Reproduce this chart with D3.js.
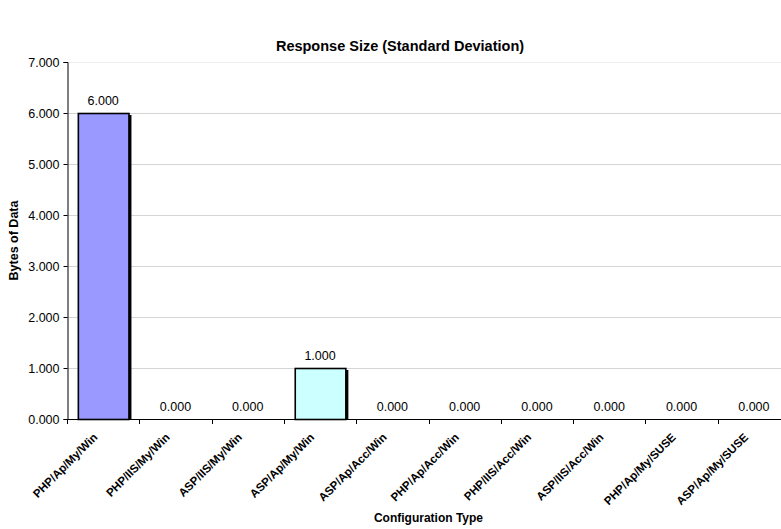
<!DOCTYPE html>
<html>
<head>
<meta charset="utf-8">
<script src="https://cdn.jsdelivr.net/npm/d3@7"></script>
<style>
  html, body { margin: 0; padding: 0; background: #fff; }
  svg { display: block; font-family: "Liberation Sans", Arial, sans-serif; }
</style>
</head>
<body>
<svg id="chart" width="781" height="529"></svg>
<script>
// Configuration labels along the x axis
const categories = [
  "PHP/Ap/My/Win", "PHP/IIS/My/Win", "ASP/IIS/My/Win", "ASP/Ap/My/Win",
  "ASP/Ap/Acc/Win", "PHP/Ap/Acc/Win", "PHP/IIS/Acc/Win", "ASP/IIS/Acc/Win",
  "PHP/Ap/My/SUSE", "ASP/Ap/My/SUSE"
];
// Standard deviation of response size, bytes
const values = [6, 0, 0, 1, 0, 0, 0, 0, 0, 0];
const barColors = ["#9999FF", "#9999FF", "#9999FF", "#CCFFFF", "#9999FF",
                   "#9999FF", "#9999FF", "#9999FF", "#9999FF", "#9999FF"];
const yTicks = [0, 1, 2, 3, 4, 5, 6, 7];

const rows = categories.map((c, i) => ({ cat: c, value: values[i], color: barColors[i] }));

const svg = d3.select("#chart");
const plot = { left: 67, right: 790, top: 62, bottom: 419 };

const x = d3.scaleBand().domain(categories).range([plot.left, plot.right]).padding(0);
const y = d3.scaleLinear().domain([0, 7]).range([plot.bottom, plot.top]);
const fmt = d3.format(".3f");
const barW = x.bandwidth() * 0.7;
const barX = d => x(d.cat) + (x.bandwidth() - barW) / 2;

// Horizontal gridlines
svg.append("g").selectAll("line").data(yTicks.filter(d => d > 0)).join("line")
  .attr("x1", plot.left).attr("x2", plot.right)
  .attr("y1", d => Math.round(y(d)) + 0.5).attr("y2", d => Math.round(y(d)) + 0.5)
  .attr("stroke", d => d === 7 ? "#eeeeee" : "#d4d4d4").attr("stroke-width", 1);

// Bars with a dark drop edge on the right
const nonZero = rows.filter(d => d.value > 0);
svg.append("g").selectAll("rect").data(nonZero).join("rect")
  .attr("x", d => barX(d) + 3)
  .attr("y", d => y(d.value) + 2)
  .attr("width", barW)
  .attr("height", d => y(0) - y(d.value) - 2)
  .attr("fill", "#000");
svg.append("g").selectAll("rect").data(nonZero).join("rect")
  .attr("x", d => barX(d) + 0.5)
  .attr("y", d => y(d.value) + 0.5)
  .attr("width", barW)
  .attr("height", d => y(0) - y(d.value))
  .attr("fill", d => d.color)
  .attr("stroke", "#000").attr("stroke-width", 1.6);

// Value labels
svg.append("g").selectAll("text").data(rows).join("text")
  .attr("x", d => x(d.cat) + x.bandwidth() / 2)
  .attr("y", d => y(d.value) - 8)
  .attr("text-anchor", "middle")
  .attr("font-size", 12.5).attr("fill", "#000")
  .text(d => fmt(d.value));

// Y axis
const yAxis = svg.append("g").attr("transform", `translate(${plot.left + 0.5},0)`)
  .call(d3.axisLeft(y).tickValues(yTicks).tickFormat(fmt).tickSize(4).tickPadding(4));
yAxis.select(".domain").attr("stroke", "#000");
yAxis.selectAll("text").attr("font-size", 12.5).attr("fill", "#000")
  .attr("font-family", "'Liberation Sans', Arial, sans-serif");

// X axis with ticks between categories
const xAxisG = svg.append("g");
xAxisG.append("line")
  .attr("x1", plot.left).attr("x2", plot.right)
  .attr("y1", plot.bottom + 0.5).attr("y2", plot.bottom + 0.5)
  .attr("stroke", "#000");
xAxisG.selectAll("line.tick").data(categories).join("line").attr("class", "tick")
  .attr("x1", d => Math.round(x(d)) + 0.5).attr("x2", d => Math.round(x(d)) + 0.5)
  .attr("y1", plot.bottom).attr("y2", plot.bottom + 5)
  .attr("stroke", "#000");

// Rotated category labels
svg.append("g").selectAll("text").data(categories).join("text")
  .attr("transform", d => `translate(${x(d) + x.bandwidth() / 2 - 5},${plot.bottom + 19}) rotate(-45)`)
  .attr("text-anchor", "end")
  .attr("font-size", 11.5).attr("font-weight", "bold").attr("fill", "#000")
  .text(d => d);

// Titles
svg.append("text").attr("x", 400).attr("y", 51).attr("text-anchor", "middle")
  .attr("font-size", 14.5).attr("font-weight", "bold").text("Response Size (Standard Deviation)");
svg.append("text").attr("x", (plot.left + plot.right) / 2).attr("y", 522).attr("text-anchor", "middle")
  .attr("font-size", 12).attr("font-weight", "bold").text("Configuration Type");
svg.append("text").attr("transform", `translate(18,${(plot.top + plot.bottom) / 2}) rotate(-90)`)
  .attr("text-anchor", "middle")
  .attr("font-size", 12.5).attr("font-weight", "bold").text("Bytes of Data");
</script>
</body>
</html>
